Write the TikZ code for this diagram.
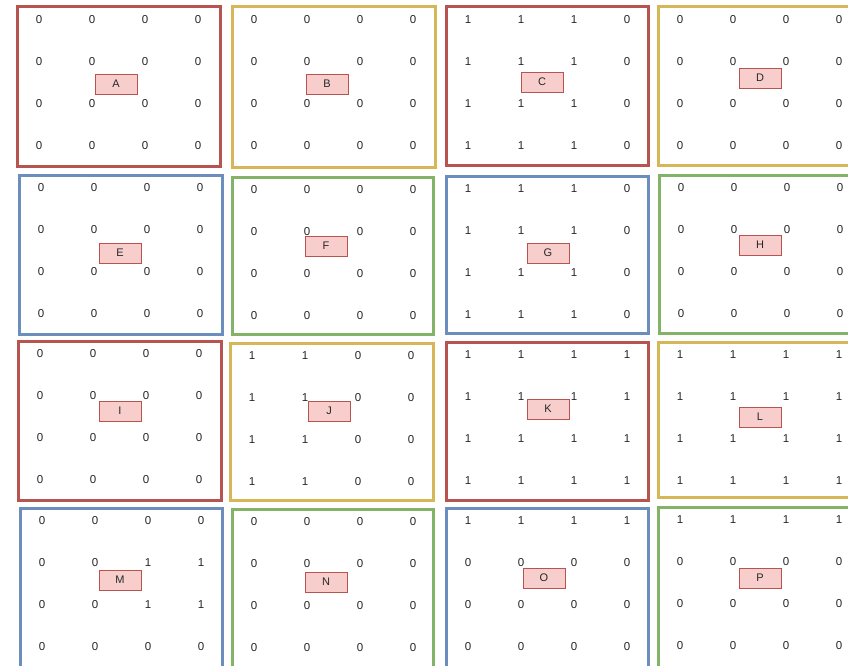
\documentclass[tikz,border=0pt]{standalone}
\usepackage{fontspec}
\setmainfont{Liberation Sans}
\usetikzlibrary{positioning}
\definecolor{rot}{HTML}{B85450}
\definecolor{gelb}{HTML}{D6B656}
\definecolor{blau}{HTML}{6C8EBF}
\definecolor{gruen}{HTML}{82B366}
\definecolor{rosa}{HTML}{F8CECC}
\definecolor{tinte}{HTML}{262626}
\tikzset{
  rahmen/.style={line width=3pt},
  marke/.style={draw=rot,fill=rosa,line width=0.6pt,minimum width=42pt,minimum height=20pt,inner sep=0pt,text=tinte,font=\fontsize{11}{11}\selectfont},
  ziffer/.style={text=tinte,inner sep=0pt,font=\fontsize{11.5}{11.5}\selectfont},
}

\begin{document}
\begin{tikzpicture}[x=1pt,y=-1pt]
  \useasboundingbox (0,0) rectangle (848,666);
  \clip (0,0) rectangle (848,666);
  % ===== 16 Felder: Name/Farbe/Rahmen/Marke/Ziffern =====
  \foreach \nm/\col/\l/\t/\r/\b/\lx/\ly/\dig in {
    A/rot/17/7/220/166/116/84/{{0,0,0,0},{0,0,0,0},{0,0,0,0},{0,0,0,0}},
    B/gelb/232/7/435/167/327/84/{{0,0,0,0},{0,0,0,0},{0,0,0,0},{0,0,0,0}},
    C/rot/446/7/648/165/542/82/{{1,1,1,0},{1,1,1,0},{1,1,1,0},{1,1,1,0}},
    D/gelb/658/7/870/165/760/78/{{0,0,0,0},{0,0,0,0},{0,0,0,0},{0,0,0,0}},
    E/blau/19/175/222/334/120/253/{{0,0,0,0},{0,0,0,0},{0,0,0,0},{0,0,0,0}},
    F/gruen/232/177/433/334/326/246/{{0,0,0,0},{0,0,0,0},{0,0,0,0},{0,0,0,0}},
    G/blau/446/176/648/333/548/253/{{1,1,1,0},{1,1,1,0},{1,1,1,0},{1,1,1,0}},
    H/gruen/659/175/870/333/760/245/{{0,0,0,0},{0,0,0,0},{0,0,0,0},{0,0,0,0}},
    I/rot/18/341/221/500/120/411/{{0,0,0,0},{0,0,0,0},{0,0,0,0},{0,0,0,0}},
    J/gelb/230/343/433/500/329/411/{{1,1,0,0},{1,1,0,0},{1,1,0,0},{1,1,0,0}},
    K/rot/446/342/648/500/548/409/{{1,1,1,1},{1,1,1,1},{1,1,1,1},{1,1,1,1}},
    L/gelb/658/342/870/497/760/417/{{1,1,1,1},{1,1,1,1},{1,1,1,1},{1,1,1,1}},
    M/blau/20/508/222/690/120/580/{{0,0,0,0},{0,0,1,1},{0,0,1,1},{0,0,0,0}},
    N/gruen/232/509/433/690/326/582/{{0,0,0,0},{0,0,0,0},{0,0,0,0},{0,0,0,0}},
    O/blau/446/508/648/690/544/578/{{1,1,1,1},{0,0,0,0},{0,0,0,0},{0,0,0,0}},
    P/gruen/658/507/870/690/760/578/{{1,1,1,1},{0,0,0,0},{0,0,0,0},{0,0,0,0}}}{
    \draw[rahmen,\col] (\l,\t) rectangle (\r,\b);
    \foreach \reihe [count=\i] in \dig {
      \foreach \z [count=\j] in \reihe {
        \node[ziffer] (\nm-\i-\j) at ({\l+22+(\j-1)*53},{\t+13+(\i-1)*42}) {\z};
      }
    }
    \node[marke] (\nm) at (\lx,\ly) {\nm};
  }
\end{tikzpicture}
\end{document}
